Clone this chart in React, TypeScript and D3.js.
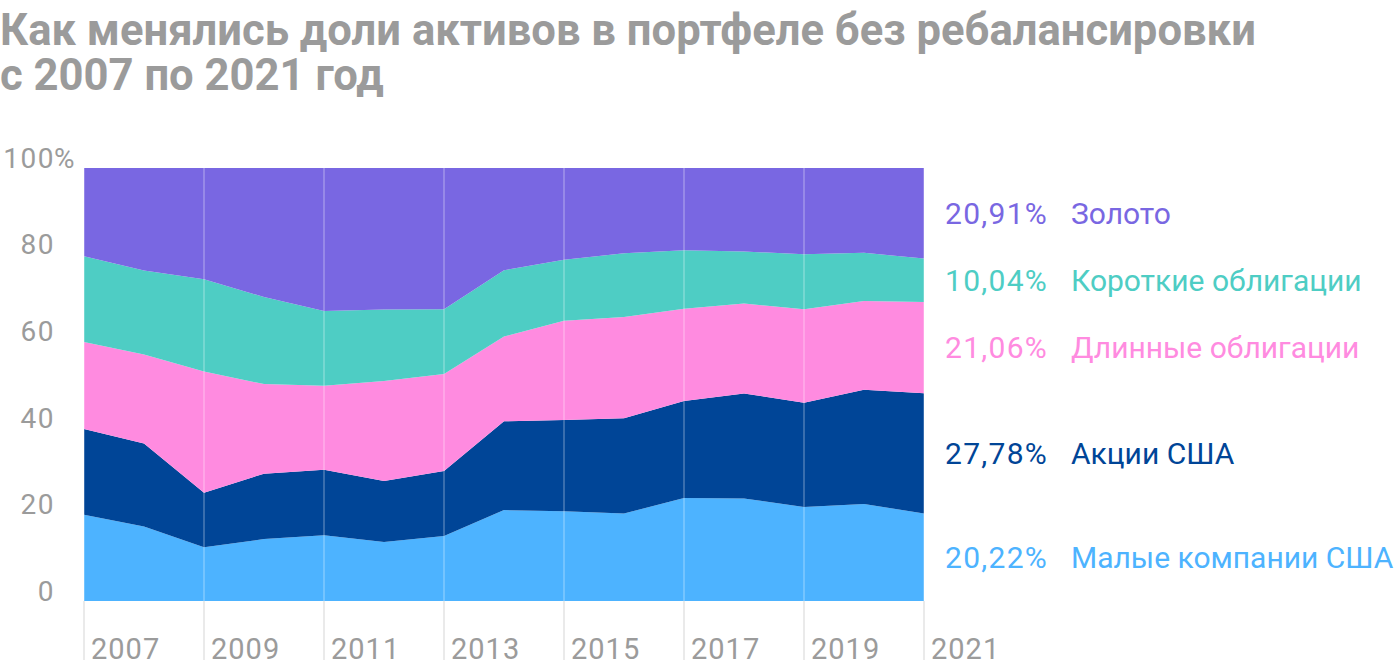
import React from "react";
import * as d3 from "d3";

const years = [2007, 2008, 2009, 2010, 2011, 2012, 2013, 2014, 2015, 2016, 2017, 2018, 2019, 2020, 2021];
const smallCaps = [19.9, 17.2, 12.4, 14.3, 15.2, 13.6, 15.0, 21.0, 20.7, 20.2, 23.8, 23.7, 21.7, 22.4, 20.22];
const usStocks = [19.8, 19.2, 12.6, 15.1, 15.1, 14.1, 15.0, 20.5, 21.1, 22.0, 22.4, 24.2, 24.1, 26.4, 27.78];
const longBonds = [20.1, 20.5, 28.0, 20.7, 19.4, 23.1, 22.4, 19.6, 22.9, 23.4, 21.3, 20.8, 21.6, 20.5, 21.06];
const shortBonds = [19.8, 19.4, 21.3, 20.1, 17.3, 16.5, 15.0, 15.3, 14.1, 14.7, 13.5, 12.0, 12.7, 11.1, 10.04];
const gold = [20.4, 23.7, 25.7, 29.8, 33.0, 32.7, 32.6, 23.6, 21.2, 19.7, 19.0, 19.3, 19.9, 19.6, 20.91];

const seriesKeys = ["small", "stocks", "long", "short", "gold"];
const seriesNames = ["Малые компании США", "Акции США", "Длинные облигации", "Короткие облигации", "Золото"];
const seriesLabels = ["20,22%", "27,78%", "21,06%", "10,04%", "20,91%"];
const seriesColors = ["#4db3ff", "#004597", "#ff8be0", "#4ecdc4", "#7967e2"];
const yTicks = [0, 20, 40, 60, 80, 100];
const xTicks = [2007, 2009, 2011, 2013, 2015, 2017, 2019, 2021];
const titleLines = ["Как менялись доли активов в портфеле без ребалансировки", "с 2007 по 2021 год"];

export default function App() {
  const W = 1400, H = 672;
  const left = 84, right = 924, top = 168, bottom = 601;
  const x = d3.scaleLinear().domain([2007, 2021]).range([left, right]);
  const y = d3.scaleLinear().domain([0, 100]).range([bottom, top]);

  const valuesArr = [smallCaps, usStocks, longBonds, shortBonds, gold];
  const rows = years.map((yr, i) => {
    const r: any = { year: yr };
    seriesKeys.forEach((k, j) => (r[k] = valuesArr[j][i]));
    return r;
  });
  const stack = d3.stack<any>().keys(seriesKeys);
  const stacked = stack(rows);
  const area = d3
    .area<any>()
    .x((d) => x(d.data.year))
    .y0((d) => y(d[0]))
    .y1((d) => Math.max(top, y(d[1])));

  const font = "Roboto, 'Noto Sans', sans-serif";
  const grey = "#9b9b9b";
  const last = years.length - 1;

  return (
    <svg width={W} height={H} style={{ position: "absolute", left: 0, top: 0 }}>
      <rect width={W} height={H} fill="#fff" />
      <text fontFamily={font} fontWeight={700} fontSize={43.6} fill={grey}>
        {titleLines.map((t, i) => (
          <tspan key={i} x={0} y={45 + i * 45}>
            {t}
          </tspan>
        ))}
      </text>
      {stacked.map((s, i) => (
        <path key={s.key} d={area(s as any) || ""} fill={seriesColors[i]} />
      ))}
      {xTicks.map((t) => (
        <g key={t}>
          <line x1={x(t)} x2={x(t)} y1={top} y2={bottom} stroke="#ffffff" strokeOpacity={0.3} strokeWidth={1.5} />
          <line x1={x(t)} x2={x(t)} y1={bottom} y2={660} stroke="#e3e3e3" strokeWidth={1.5} />
          <text x={x(t) + 7} y={659} fontFamily={font} fontSize={29} letterSpacing={1} fill={grey}>
            {t}
          </text>
        </g>
      ))}
      {yTicks.map((t) => (
        <g key={t}>
          <text x={55} y={y(t) - 10} dy="0.35em" textAnchor="end" fontFamily={font} fontSize={28} letterSpacing={1.5} fill={grey}>
            {t}
          </text>
          {t === 100 && (
            <text x={54} y={y(t) - 10} dy="0.35em" fontFamily={font} fontSize={28} fill={grey}>
              %
            </text>
          )}
        </g>
      ))}
      {stacked.map((s, i) => {
        const d = s[last];
        const cy = (y(d[0]) + Math.max(top, y(d[1]))) / 2;
        return (
          <g key={"lab" + s.key}>
            <text x={945} y={cy} dy="0.36em" fontFamily={font} fontSize={30} letterSpacing={1.3} fill={seriesColors[i]}>
              {seriesLabels[i]}
            </text>
            <text x={1071} y={cy} dy="0.36em" fontFamily={font} fontSize={30} fill={seriesColors[i]}>
              {seriesNames[i]}
            </text>
          </g>
        );
      })}
    </svg>
  );
}
